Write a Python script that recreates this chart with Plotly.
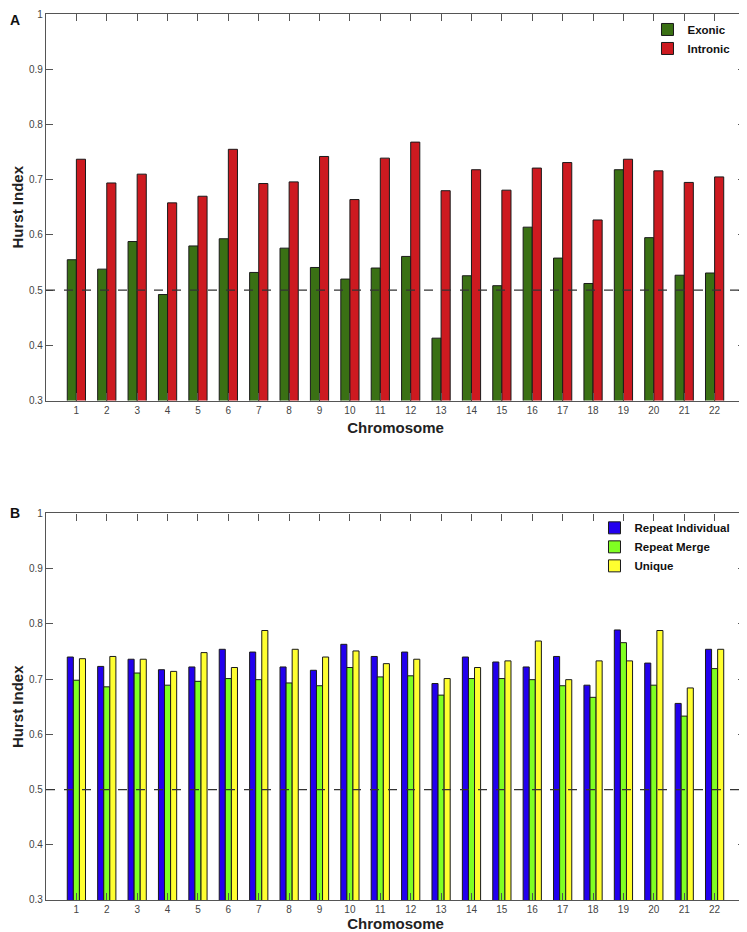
import plotly.graph_objects as go
from plotly.subplots import make_subplots

chromosomes = list(range(1, 23))

exonic = [0.555, 0.538, 0.588, 0.492, 0.580, 0.593, 0.532, 0.576, 0.541, 0.520, 0.540,
          0.561, 0.413, 0.526, 0.508, 0.614, 0.558, 0.512, 0.718, 0.595, 0.527, 0.531]
intronic = [0.737, 0.694, 0.710, 0.658, 0.670, 0.755, 0.693, 0.696, 0.742, 0.664, 0.739,
            0.768, 0.680, 0.718, 0.681, 0.721, 0.731, 0.627, 0.737, 0.716, 0.695, 0.705]

repeat_individual = [0.740, 0.723, 0.736, 0.717, 0.722, 0.754, 0.749, 0.722, 0.716, 0.763, 0.741,
                     0.749, 0.692, 0.740, 0.731, 0.722, 0.741, 0.689, 0.789, 0.729, 0.656, 0.754]
repeat_merge = [0.698, 0.686, 0.711, 0.689, 0.696, 0.701, 0.699, 0.693, 0.688, 0.721, 0.704,
                0.706, 0.671, 0.701, 0.701, 0.699, 0.688, 0.667, 0.766, 0.689, 0.633, 0.719]
unique = [0.737, 0.741, 0.736, 0.714, 0.748, 0.721, 0.788, 0.754, 0.740, 0.751, 0.728,
          0.736, 0.701, 0.721, 0.733, 0.769, 0.699, 0.733, 0.733, 0.788, 0.684, 0.754]

y_ticks = [0.3, 0.4, 0.5, 0.6, 0.7, 0.8, 0.9, 1]

fig = make_subplots(rows=2, cols=1, vertical_spacing=0.1274)

line = dict(color="#1a1a1a", width=1)
fig.add_trace(go.Bar(x=chromosomes, y=exonic, name="Exonic", marker=dict(color="#3a7014", line=line),
                     legend="legend"), row=1, col=1)
fig.add_trace(go.Bar(x=chromosomes, y=intronic, name="Intronic", marker=dict(color="#cd1a20", line=line),
                     legend="legend"), row=1, col=1)
fig.add_trace(go.Bar(x=chromosomes, y=repeat_individual, name="Repeat Individual",
                     marker=dict(color="#2200ee", line=line), legend="legend2"), row=2, col=1)
fig.add_trace(go.Bar(x=chromosomes, y=repeat_merge, name="Repeat Merge",
                     marker=dict(color="#80ff22", line=line), legend="legend2"), row=2, col=1)
fig.add_trace(go.Bar(x=chromosomes, y=unique, name="Unique",
                     marker=dict(color="#ffff30", line=line), legend="legend2"), row=2, col=1)

# reference line at H = 0.5
for r in (1, 2):
    fig.add_hline(y=0.5, line=dict(color="#333333", width=1.3, dash="dash"), row=r, col=1)

axis_style = dict(showline=True, linecolor="#555555", linewidth=1.3, mirror="ticks",
                  ticks="inside", ticklen=7, tickcolor="#555555", showgrid=False, zeroline=False,
                  automargin=False,
                  tickfont=dict(family="Arial", size=10, color="#444444"))

fig.update_xaxes(range=[0, 23], tickvals=chromosomes,
                 title=dict(text="Chromosome", standoff=7,
                            font=dict(family="Arial", size=15, color="#222222", weight="bold")),
                 **axis_style)
fig.update_yaxes(range=[0.3, 1], tickvals=y_ticks,
                 title=dict(text="Hurst Index", standoff=1,
                            font=dict(family="Arial", size=15, color="#222222", weight="bold")),
                 **axis_style)

fig.update_yaxes(domain=[0.5637, 1], row=1, col=1)
fig.update_yaxes(domain=[0, 0.4363], row=2, col=1)

# page body has an 8px margin, so the figure is sized to fit the window
legend_font = dict(family="Arial", size=11.5, color="#111111", weight="bold")
fig.update_layout(
    width=739, height=924,
    margin=dict(l=38, r=2, t=6, b=32),
    plot_bgcolor="white", paper_bgcolor="white",
    barmode="group",
    bargap=0.4,
    bargroupgap=0,
    legend=dict(x=0.9864, y=0.9989, xanchor="right", yanchor="top", bgcolor="rgba(0,0,0,0)",
                font=legend_font, tracegroupgap=0, itemwidth=30),
    legend2=dict(x=0.9864, y=0.4364, xanchor="right", yanchor="top", bgcolor="rgba(0,0,0,0)",
                 font=legend_font, tracegroupgap=0, itemwidth=30),
    annotations=[
        dict(text="<b>A</b>", x=-0.0544, y=1.0045, xref="paper", yref="paper", showarrow=False,
             xanchor="left", yanchor="top", font=dict(family="Arial", size=14, color="#111111")),
        dict(text="<b>B</b>", x=-0.0544, y=0.4476, xref="paper", yref="paper", showarrow=False,
             xanchor="left", yanchor="top", font=dict(family="Arial", size=14, color="#111111")),
    ],
)

fig.write_html("out.html")
